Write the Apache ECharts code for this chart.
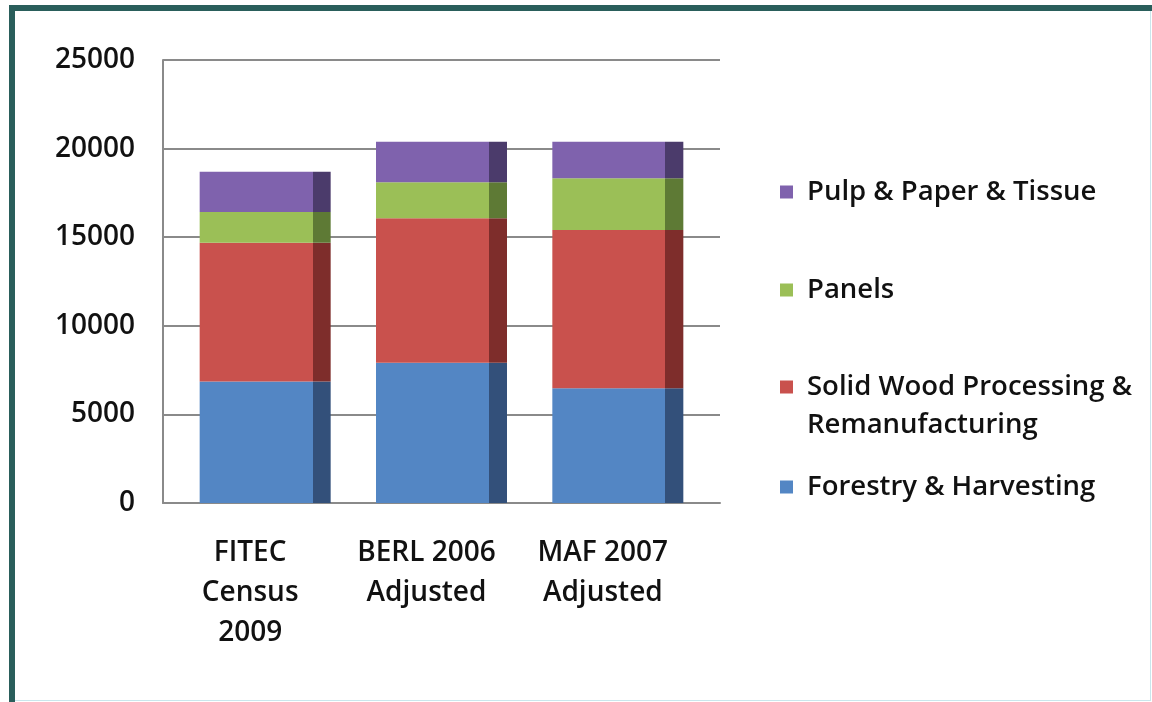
<!DOCTYPE html>
<html>
<head>
<meta charset="utf-8">
<title>Forestry workforce estimates</title>
<script src="https://cdn.jsdelivr.net/npm/echarts@6/dist/echarts.min.js"></script>
<style>
  html, body { margin: 0; padding: 0; background: #fff; }
  #wrap { position: relative; width: 1152px; height: 702px; overflow: hidden; background: #fff; }
  #chart { position: absolute; left: 0; top: 0; width: 1152px; height: 702px; }
  /* 外框：左、上为深青色粗线，右、下只有淡色细线 */
  #frame {
    position: absolute; left: 9px; top: 5px; width: 1200px; height: 800px;
    border-left: 6px solid #2a5e5b; border-top: 6px solid #2a5e5b;
    pointer-events: none;
  }
  #edge {
    position: absolute; left: 15px; top: 11px; width: 1135px; height: 689px;
    border-right: 1px solid #c9e6ec; border-bottom: 1px solid #c9e6ec;
    pointer-events: none;
  }
</style>
</head>
<body>
<div id="wrap">
  <div id="chart"></div>
  <div id="edge"></div>
  <div id="frame"></div>
</div>
<script>
// ---- 数据 ----
const categories = ['FITEC\nCensus\n2009', 'BERL 2006\nAdjusted', 'MAF 2007\nAdjusted'];
const forestry = [6850, 7920, 6470];
const solidWood = [7840, 8150, 8930];
const panels = [1730, 2030, 2920];
const pulpPaper = [2280, 2290, 2070];
const yTicks = [0, 5000, 10000, 15000, 20000, 25000];

const seriesNames = [
  'Forestry & Harvesting',
  'Solid Wood Processing & Remanufacturing',
  'Panels',
  'Pulp & Paper & Tissue'
];
const seriesData = [forestry, solidWood, panels, pulpPaper];
const frontColors = ['#5386c4', '#c9514d', '#9bbf57', '#7f62ad'];
const sideColors = ['#33507a', '#7e2d2b', '#5e7a35', '#4b3b6b'];

const FONT = '"Open Sans", "DejaVu Sans", sans-serif';
const GRID_COLOR = '#8a8a8a';
const TEXT_COLOR = '#111';

// 前面 + 右侧暗面（模拟 3D 柱）
function faceGradient(i) {
  const cut = 113 / 131;
  return {
    type: 'linear', x: 0, y: 0, x2: 1, y2: 0,
    colorStops: [
      { offset: 0, color: frontColors[i] },
      { offset: cut, color: frontColors[i] },
      { offset: cut, color: sideColors[i] },
      { offset: 1, color: sideColors[i] }
    ]
  };
}

const series = seriesData.map((d, i) => ({
  name: seriesNames[i],
  type: 'bar',
  stack: 'total',
  xAxisIndex: 1,
  yAxisIndex: 1,
  barWidth: 131,
  data: d,
  itemStyle: { color: faceGradient(i) },
  emphasis: { disabled: true }
}));

// 图例：每项一个 legend，便于精确定位；第二行文字单独放
const legendTops = [470, 370, 273, 175];
const legends = seriesNames.map((name, i) => ({
  data: [{ name: name, itemStyle: { color: frontColors[i] } }],
  orient: 'vertical',
  left: 780,
  top: legendTops[i],
  padding: 0,
  itemWidth: 13,
  itemHeight: 13,
  icon: 'rect',
  selectedMode: false,
  formatter: n => n.replace(' Remanufacturing', ''),
  textStyle: {
    fontFamily: FONT,
    fontSize: 27.5,
    fontWeight: 600,
    color: TEXT_COLOR,
    lineHeight: 34,
    padding: [0, 0, 0, 9]
  }
}));

const chart = echarts.init(document.getElementById('chart'), null, { renderer: 'canvas' });
chart.setOption({
  animation: false,
  backgroundColor: 'transparent',
  grid: [
    { left: 163, top: 60, width: 557, height: 443 },
    { left: 177, top: 60, width: 529, height: 443 }
  ],
  xAxis: [
    {
      type: 'category',
      gridIndex: 0,
      data: categories,
      axisLine: { lineStyle: { color: GRID_COLOR, width: 2 } },
      axisTick: { show: false },
      axisLabel: { show: false }
    },
    {
      type: 'category',
      gridIndex: 1,
      data: categories,
      axisLine: { show: false },
      axisTick: { show: false },
      axisLabel: {
        margin: 30,
        fontFamily: FONT,
        fontSize: 28,
        fontWeight: 600,
        color: TEXT_COLOR,
        lineHeight: 40,
        padding: [0, 30, 0, 0],
        interval: 0
      }
    }
  ],
  yAxis: [
    {
      type: 'value',
      gridIndex: 0,
      min: yTicks[0],
      max: yTicks[yTicks.length - 1],
      interval: yTicks[1] - yTicks[0],
      axisLine: { show: true, lineStyle: { color: GRID_COLOR, width: 2 } },
      axisTick: { show: false },
      splitLine: { lineStyle: { color: GRID_COLOR, width: 2 } },
      axisLabel: {
        margin: 28,
        fontFamily: FONT,
        fontSize: 28,
        fontWeight: 600,
        color: TEXT_COLOR,
        formatter: v => String(v)
      }
    },
    {
      type: 'value',
      gridIndex: 1,
      min: yTicks[0],
      max: yTicks[yTicks.length - 1],
      show: false
    }
  ],
  legend: legends,
  graphic: [
    {
      type: 'text',
      left: 807,
      top: 411,
      silent: true,
      style: {
        text: 'Remanufacturing',
        font: '600 27.5px ' + FONT,
        fill: TEXT_COLOR
      }
    }
  ],
  series: series
});
</script>
</body>
</html>
